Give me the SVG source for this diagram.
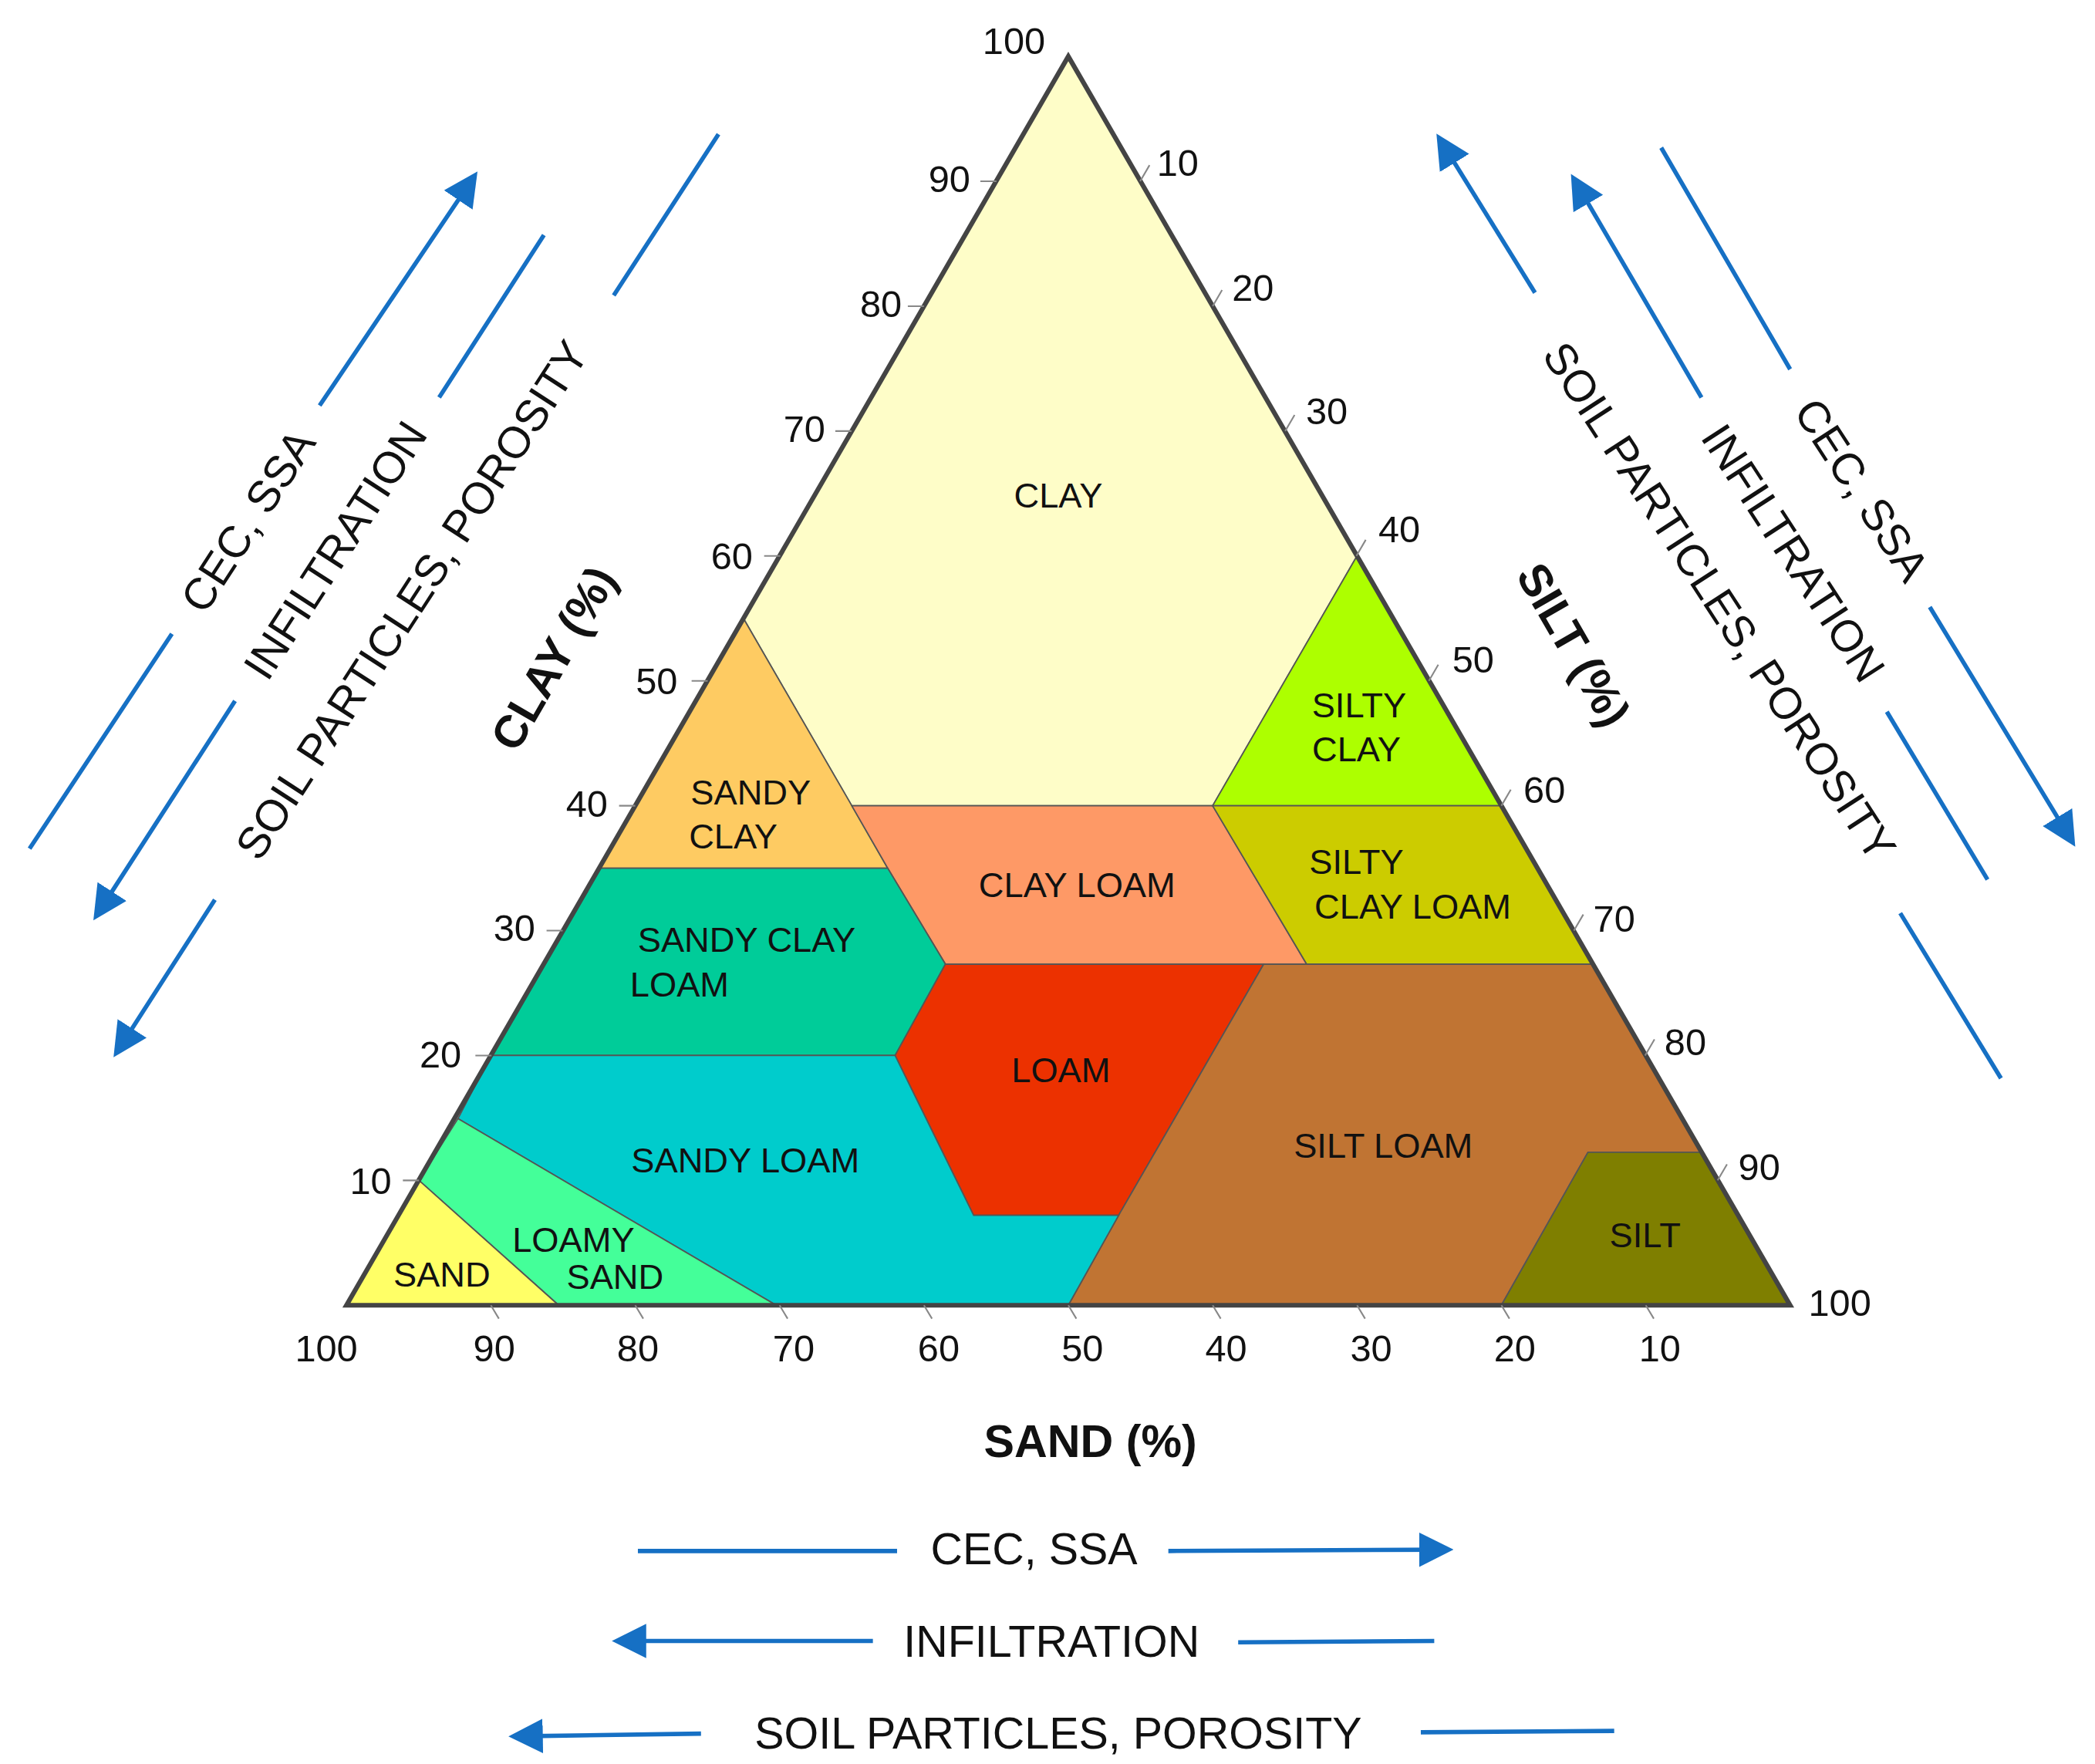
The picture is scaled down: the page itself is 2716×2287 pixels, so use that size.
<svg xmlns="http://www.w3.org/2000/svg" width="2716" height="2287" viewBox="0 0 2716 2287">
<style>
text{font-family:"Liberation Sans",Arial,sans-serif;fill:#111}
.r{font-size:26px;text-anchor:middle}
.t{font-size:28px;text-anchor:middle}
.h{font-size:34px;font-weight:bold;text-anchor:middle}
.s{font-size:33px;text-anchor:middle}
.reg{stroke:#555;stroke-width:1}
.tk{stroke:#888;stroke-width:1.2}
.ar{stroke:#1670c4;stroke-width:3.2;fill:none}
</style>
<defs><marker id="ah" markerWidth="8" markerHeight="8" refX="6" refY="4" orient="auto" markerUnits="strokeWidth"><path d="M0,0L8,4L0,8z" fill="#1670c4"/></marker></defs>
<rect width="2716" height="2287" fill="#fff"/>
<g transform="scale(1.741)">
<g id="regions">
<g id="clay"><polygon class="reg" fill="#fefdc8" points="795.5,42 1010.5,414 903,600 634.3,600 553.6,460.5"/><text class="r" x="788" y="378">CLAY</text></g>
<g id="sandy-clay"><polygon class="reg" fill="#fecb62" points="553.6,460.5 634.3,600 661,646.5 446,646.5"/><text class="r" x="559" y="599">SANDY</text><text class="r" x="546" y="632">CLAY</text></g>
<g id="clay-loam"><polygon class="reg" fill="#fe9966" points="634.3,600 903,600 973,718 704,718 661,646.5"/><text class="r" x="802" y="668">CLAY LOAM</text></g>
<g id="silty-clay"><polygon class="reg" fill="#adff00" points="1010.5,414 1118,600 903,600"/><text class="r" x="1012" y="534">SILTY</text><text class="r" x="1010" y="567">CLAY</text></g>
<g id="silty-clay-loam"><polygon class="reg" fill="#cccc00" points="903,600 1118,600 1186.5,718 973,718"/><text class="r" x="1010" y="651">SILTY</text><text class="r" x="1052" y="684">CLAY LOAM</text></g>
<g id="sandy-clay-loam"><polygon class="reg" fill="#00cc99" points="446,646.5 661,646.5 704,718 666.5,786 365.5,786"/><text class="r" x="556" y="709">SANDY CLAY</text><text class="r" x="506" y="742">LOAM</text></g>
<g id="loam"><polygon class="reg" fill="#ec3100" points="704,718 941,718 833,905 725,905 666.5,786"/><text class="r" x="790" y="806">LOAM</text></g>
<g id="silt-loam"><polygon class="reg" fill="#c07433" points="941,718 1186.5,718 1266,858 1182.5,858 1118,972 795.5,972 833,905"/><text class="r" x="1030" y="862">SILT LOAM</text></g>
<g id="silt"><polygon class="reg" fill="#7f7f00" points="1182.5,858 1266,858 1333,972 1118,972"/><text class="r" x="1225" y="929">SILT</text></g>
<g id="sandy-loam"><polygon class="reg" fill="#00cccc" points="365.5,786 666.5,786 725,905 833,905 795.5,972 578,972 341,833"/><text class="r" x="555" y="873">SANDY LOAM</text></g>
<g id="loamy-sand"><polygon class="reg" fill="#44ff99" points="341,833 578,972 416,972 312,879"/><text class="r" x="427" y="932">LOAMY</text><text class="r" x="458" y="960">SAND</text></g>
<g id="sand"><polygon class="reg" fill="#ffff66" points="312,879 416,972 258,972"/><text class="r" x="329" y="958">SAND</text></g>
</g>
<polygon points="795.5,42 1333,972 258,972" fill="none" stroke="#444" stroke-width="3.5" stroke-linejoin="miter"/>
<g id="ticks">
<path class="tk" d="M742,135h-12M688,228h-12M634,321h-12M581,414h-12M527,507h-12M473,600h-12M419,693h-12M366,786h-12M312,879h-12
M849,135l7,-12M903,228l7,-12M957,321l7,-12M1010,414l7,-12M1064,507l7,-12M1118,600l7,-12M1172,693l7,-12M1225,786l7,-12M1279,879l7,-12
M365.5,972l6,10M473,972l6,10M580.5,972l6,10M688,972l6,10M795.5,972l6,10M903,972l6,10M1010.5,972l6,10M1118,972l6,10M1225.5,972l6,10"/>
</g>
<g id="labels">
<text class="t" x="755" y="40">100</text>
<text class="t" x="707" y="143">90</text><text class="t" x="656" y="236">80</text><text class="t" x="599" y="329">70</text><text class="t" x="545" y="424">60</text><text class="t" x="489" y="517">50</text><text class="t" x="437" y="608">40</text><text class="t" x="383" y="701">30</text><text class="t" x="328" y="795">20</text><text class="t" x="276" y="889">10</text>
<text class="t" x="877" y="131">10</text><text class="t" x="933" y="224">20</text><text class="t" x="988" y="316">30</text><text class="t" x="1042" y="404">40</text><text class="t" x="1097" y="501">50</text><text class="t" x="1150" y="598">60</text><text class="t" x="1202" y="694">70</text><text class="t" x="1255" y="786">80</text><text class="t" x="1310" y="879">90</text><text class="t" x="1370" y="980">100</text>
<text class="t" x="243" y="1014">100</text><text class="t" x="368" y="1014">90</text><text class="t" x="475" y="1014">80</text><text class="t" x="591" y="1014">70</text><text class="t" x="699" y="1014">60</text><text class="t" x="806" y="1014">50</text><text class="t" x="913" y="1014">40</text><text class="t" x="1021" y="1014">30</text><text class="t" x="1128" y="1014">20</text><text class="t" x="1236" y="1014">10</text>
<text class="h" transform="translate(412,490) rotate(-60)" y="12">CLAY (%)</text>
<text class="h" transform="translate(1172,480) rotate(60)" y="12">SILT (%)</text>
<text class="h" x="812" y="1085">SAND (%)</text>
</g>
<g id="connectors">
<path class="ar" d="M22,632L128,472M238,302L352,133" marker-end="url(#ah)"/>
<path class="ar" d="M405,175L327,296M175,522L73,680" marker-end="url(#ah)"/>
<path class="ar" d="M535,100L457,220M160,670L88,782" marker-end="url(#ah)"/>
<path class="ar" d="M1143,218L1073,105" marker-end="url(#ah)"/><path class="ar" d="M1415,680L1490,803"/>
<path class="ar" d="M1267,296L1173,135" marker-end="url(#ah)"/><path class="ar" d="M1405,530L1480,655"/>
<path class="ar" d="M1237,110L1333,275M1437,452L1542,625" marker-end="url(#ah)"/>
<path class="ar" d="M475,1155H668M870,1155L1076,1154" marker-end="url(#ah)"/>
<path class="ar" d="M1068,1222L922,1223M650,1222L462,1222" marker-end="url(#ah)"/>
<path class="ar" d="M1202,1289L1058,1290M522,1291L385,1293" marker-end="url(#ah)"/>
</g>
<g id="arrow-texts">
<text class="s" transform="translate(185,388) rotate(-57)" y="11">CEC, SSA</text>
<text class="s" transform="translate(250,410) rotate(-57)" y="11">INFILTRATION</text>
<text class="s" transform="translate(307,447) rotate(-57)" y="11">SOIL PARTICLES, POROSITY</text>
<text class="s" transform="translate(1280,448) rotate(57)" y="11">SOIL PARTICLES, POROSITY</text>
<text class="s" transform="translate(1335,412) rotate(57)" y="11">INFILTRATION</text>
<text class="s" transform="translate(1386,365) rotate(57)" y="11">CEC, SSA</text>
<text class="s" x="770" y="1165">CEC, SSA</text>
<text class="s" x="783" y="1234">INFILTRATION</text>
<text class="s" x="788" y="1302">SOIL PARTICLES, POROSITY</text>
</g>
</g>
</svg>
